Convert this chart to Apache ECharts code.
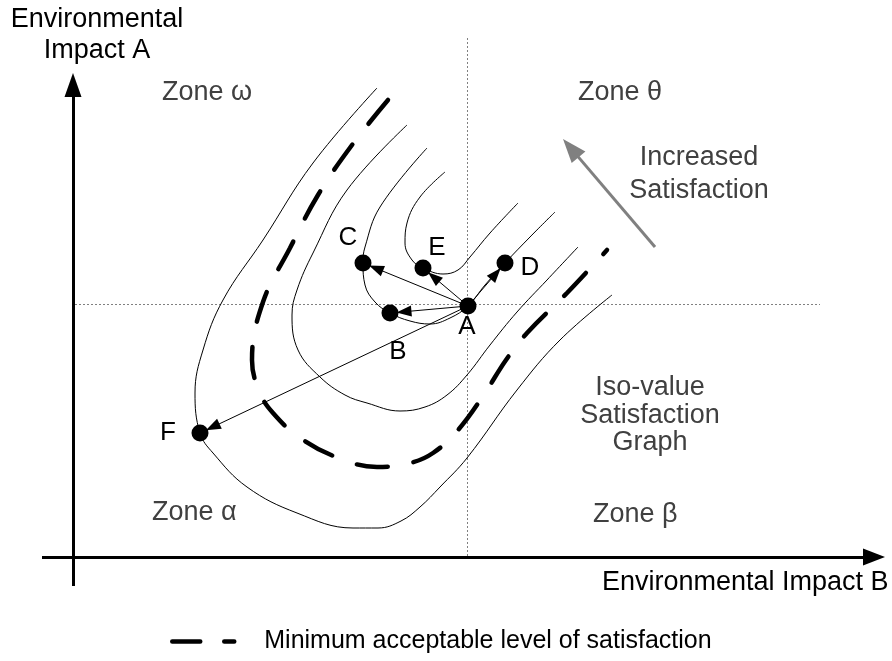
<!DOCTYPE html>
<html>
<head>
<meta charset="utf-8">
<title>Iso-value Satisfaction Graph</title>
<script src="https://cdn.jsdelivr.net/npm/echarts@6/dist/echarts.min.js"></script>
<style>
  html, body { margin: 0; padding: 0; background: #fff; }
  #main { width: 892px; height: 661px; }
</style>
</head>
<body>
<div id="main"></div>
<script>
'use strict'
// x: along Environmental Impact B, y: along Environmental Impact A (origin = axes crossing)
var outerCurve = [[304,469],[240,394],[190,317],[150,257],[130,207],[122,164],[127,124],[140,104],[174,70],[224,44],[280,29],[305,29],[328,36],[347,50],[367,70],[394,99],[444,167],[487,217],[539,262]];
var minimumCurve = [[315,457],[279,412],[245,362],[217,309],[190,255],[179,197],[187,164],[200,144],[226,120],[263,100],[304,90],[337,94],[360,104],[385,127],[410,161],[433,197],[454,224],[494,264],[534,307]];
var middleCurve = [[334,432],[274,367],[240,304],[224,267],[219,242],[225,207],[247,180],[272,162],[294,154],[327,146],[352,150],[374,162],[394,182],[417,212],[444,245],[474,277],[505,310]];
var innerCurve = [[354,409],[307,350],[292,310],[290,294],[292,272],[302,255],[317,244],[337,236],[357,233],[377,239],[395,251],[412,272],[432,294],[457,320],[482,345]];
var topCurve = [[372,385],[347,360],[334,334],[332,314],[339,297],[350,289],[370,283],[385,287],[397,300],[417,324],[445,354]];

var pointNames = ['A', 'B', 'C', 'D', 'E', 'F'];
var pointValues = [[395,251],[317,244],[290,294],[432,294],[350,289],[127,124]];
var moveTargets = ['B', 'C', 'E', 'D', 'F'];

var axisB = [[-31,0],[812,0]];
var axisA = [[0,-29],[0,484]];
var guideH = [[2,252.5],[747,252.5]];
var guideV = [[394.5,519],[394.5,-1]];
var satisfactionArrow = [[582,310],[490,418]];

var legendName = 'Minimum acceptable level of satisfaction';
var font = '"Liberation Sans", Arial, sans-serif';

// pull an end point back along the segment so the arrow head's tip lands where wanted
function pullBack(p, q, d) {
    var dx = q[0] - p[0], dy = q[1] - p[1];
    var len = Math.sqrt(dx * dx + dy * dy);
    return [q[0] - dx / len * d, q[1] - dy / len * d];
}
function valueOf(name) {
    return pointValues[pointNames.indexOf(name)];
}

var labelOffsets = { A: [-1, 21], B: [8, 39], C: [-15, -25], D: [25, 5], E: [14, -20], F: [-32, 0] };

var chart = echarts.init(document.getElementById('main'), null, { renderer: 'canvas' });

function thin(data) {
    return {
        type: 'line', data: data, smooth: 0.4, symbol: 'none', silent: true, z: 3,
        lineStyle: { color: '#000', width: 1 }
    };
}

var moveLines = moveTargets.map(function (n) {
    return { coords: [valueOf('A'), pullBack(valueOf('A'), valueOf(n), 14)] };
});

var option = {
    animation: false,
    backgroundColor: '#fff',
    grid: { left: 0, right: 0, top: 0, bottom: 0 },
    xAxis: { type: 'value', min: -73, max: 819, show: false },
    yAxis: { type: 'value', min: -104, max: 557, show: false },
    legend: {
        data: [legendName],
        left: 170, top: 629, padding: 0,
        itemWidth: 87, itemHeight: 14,
        itemStyle: { opacity: 0 },
        lineStyle: { width: 4.5, type: [28, 24, 10, 30], cap: 'round', color: '#000' },
        textStyle: { fontSize: 25, fontFamily: font, color: '#000' },
        selectedMode: false
    },
    series: [
        {
            type: 'lines', coordinateSystem: 'cartesian2d', silent: true, z: 1,
            lineStyle: { color: '#808080', width: 1, type: [2, 2], opacity: 1 },
            data: [{ coords: guideH }, { coords: guideV }]
        },
        thin(outerCurve),
        thin(middleCurve),
        thin(innerCurve),
        thin(topCurve),
        {
            name: legendName, type: 'line', data: minimumCurve, smooth: 0.4, symbol: 'none', silent: true, z: 4,
            itemStyle: { color: '#000' },
            lineStyle: { color: '#000', width: 4.5, type: [31, 26], cap: 'round' }
        },
        {
            type: 'lines', coordinateSystem: 'cartesian2d', silent: true, z: 5,
            symbol: ['none', 'triangle'], symbolSize: [1, [17, 24]],
            lineStyle: { color: '#000', width: 3, opacity: 1 },
            data: [
                { coords: [axisB[0], pullBack(axisB[0], axisB[1], 11)], symbolSize: [1, [17, 22]] },
                { coords: [axisA[0], pullBack(axisA[0], axisA[1], 12)] }
            ]
        },
        {
            type: 'lines', coordinateSystem: 'cartesian2d', silent: true, z: 5,
            symbol: ['none', 'triangle'], symbolSize: [1, [11, 15]],
            lineStyle: { color: '#000', width: 1, opacity: 1 },
            data: moveLines
        },
        {
            type: 'lines', coordinateSystem: 'cartesian2d', silent: true, z: 5,
            symbol: ['none', 'triangle'], symbolSize: [1, [18, 24]],
            lineStyle: { color: '#808080', width: 3, opacity: 1 },
            itemStyle: { color: '#808080' },
            data: [{ coords: [satisfactionArrow[0], pullBack(satisfactionArrow[0], satisfactionArrow[1], 12)] }]
        },
        {
            type: 'scatter', silent: true, z: 6, symbolSize: 17,
            itemStyle: { color: '#000', opacity: 1 },
            label: {
                show: true, position: 'inside', formatter: '{b}',
                fontSize: 26, fontFamily: font, color: '#000'
            },
            data: pointNames.map(function (n, i) {
                return { name: n, value: pointValues[i], label: { offset: labelOffsets[n] } };
            })
        }
    ],
    graphic: [
        { type: 'text', x: 97, y: 35.5, style: { text: 'Environmental\nImpact A', align: 'center', verticalAlign: 'middle', lineHeight: 31, font: '27px ' + font, fill: '#000' } },
        { type: 'text', x: 602, y: 583, style: { text: 'Environmental Impact B', align: 'left', verticalAlign: 'middle', font: '27px ' + font, fill: '#000' } },
        { type: 'text', x: 162, y: 93, style: { text: 'Zone ω', verticalAlign: 'middle', font: '27px ' + font, fill: '#404040' } },
        { type: 'text', x: 578, y: 93, style: { text: 'Zone θ', verticalAlign: 'middle', font: '27px ' + font, fill: '#404040' } },
        { type: 'text', x: 152, y: 513, style: { text: 'Zone α', verticalAlign: 'middle', font: '27px ' + font, fill: '#404040' } },
        { type: 'text', x: 593, y: 515, style: { text: 'Zone β', verticalAlign: 'middle', font: '27px ' + font, fill: '#404040' } },
        { type: 'text', x: 699, y: 174.5, style: { text: 'Increased\nSatisfaction', align: 'center', verticalAlign: 'middle', lineHeight: 33, font: '27px ' + font, fill: '#404040' } },
        { type: 'text', x: 650, y: 415.5, style: { text: 'Iso-value\nSatisfaction\nGraph', align: 'center', verticalAlign: 'middle', lineHeight: 27.5, font: '27px ' + font, fill: '#404040' } }
    ]
};
chart.setOption(option);
</script>
</body>
</html>
